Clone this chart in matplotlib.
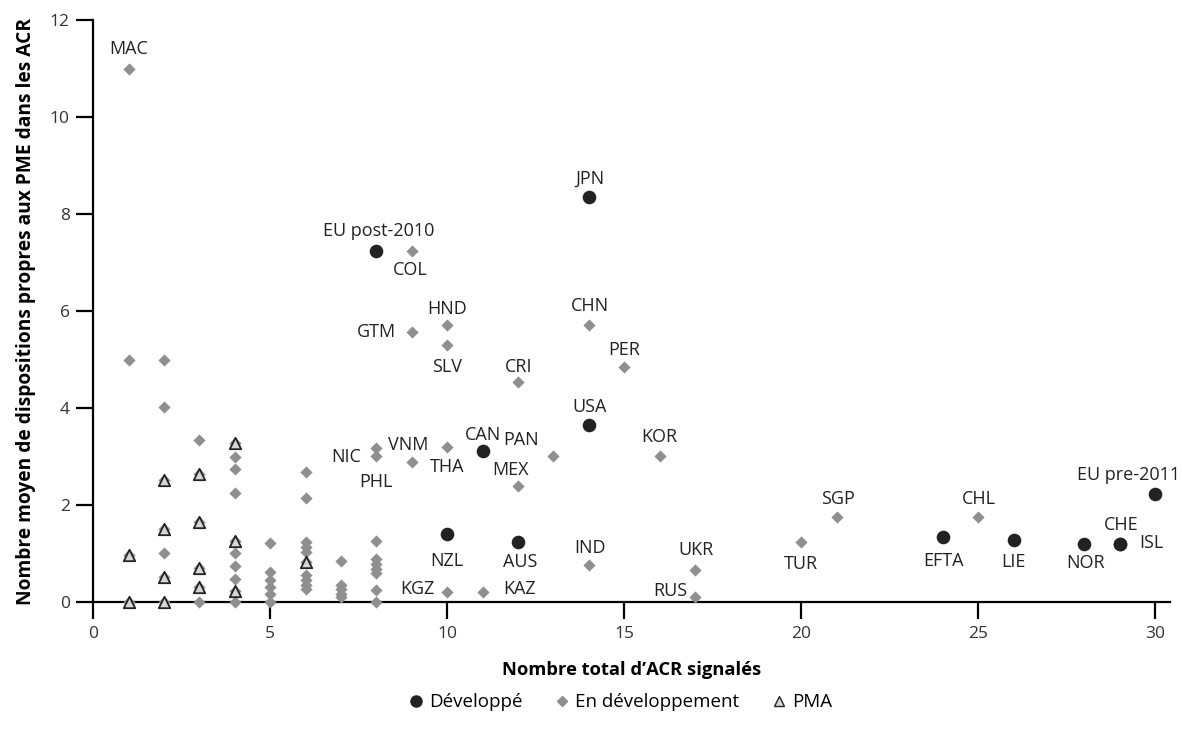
import matplotlib.pyplot as plt
from matplotlib.lines import Line2D

plt.rcParams['font.family'] = ['Open Sans', 'DejaVu Sans']

# Développé
dev_names = ["EU post-2010", "JPN", "CAN", "USA", "NZL", "AUS", "EFTA", "LIE",
             "NOR", "CHE", "ISL", "EU pre-2011"]
dev_x = [8, 14, 11, 14, 10, 12, 24, 26, 28, 29, 29, 30]
dev_y = [7.25, 8.35, 3.13, 3.65, 1.40, 1.25, 1.34, 1.28, 1.20, 1.20, 1.20, 2.24]

# En développement (labelled)
lab_names = ["MAC", "COL", "HND", "GTM", "SLV", "CRI", "CHN", "PER", "KOR", "PAN",
             "MEX", "THA", "VNM", "NIC", "PHL", "IND", "UKR", "RUS", "KGZ", "KAZ",
             "TUR", "SGP", "CHL"]
lab_x = [1, 9, 10, 9, 10, 12, 14, 15, 16, 13, 12, 10, 9, 8, 8, 14, 17, 17, 10, 11,
         20, 21, 25]
lab_y = [11.0, 7.24, 5.72, 5.58, 5.31, 4.55, 5.72, 4.86, 3.02, 3.02, 2.39, 3.21,
         2.90, 3.19, 3.02, 0.77, 0.67, 0.12, 0.22, 0.22, 1.24, 1.76, 1.76]

# En développement (unlabelled)
other_x = [1, 2, 2, 2, 3, 3,
           4, 4, 4, 4, 4, 4, 4,
           5, 5, 5, 5, 5, 5,
           6, 6, 6, 6, 6, 6, 6, 6, 6,
           7, 7, 7, 7, 7,
           8, 8, 8, 8, 8, 8, 8]
other_y = [5.0, 5.0, 4.02, 1.01, 3.35, 0.0,
           3.0, 2.74, 2.26, 1.01, 0.75, 0.49, 0.0,
           1.22, 0.63, 0.46, 0.32, 0.17, 0.0,
           2.68, 2.16, 1.25, 1.15, 1.04, 0.56, 0.46, 0.36, 0.27,
           0.86, 0.36, 0.27, 0.18, 0.10,
           1.27, 0.89, 0.78, 0.69, 0.60, 0.25, 0.0]

# PMA
pma_x = [1, 1, 2, 2, 2, 2, 3, 3, 3, 3, 4, 4, 4, 6]
pma_y = [0.98, 0.0, 2.52, 1.51, 0.52, 0.0, 2.65, 1.66, 0.70, 0.32, 3.28, 1.27, 0.24, 0.84]

# label offsets in pixels (dx, dy), screen up = positive
offsets = {
    "EU post-2010": (2, 20), "JPN": (1, 19), "CAN": (0, 16), "USA": (1, 18),
    "NZL": (0, -27), "AUS": (2, -20), "EFTA": (1, -24), "LIE": (0, -22),
    "NOR": (1, -19), "CHE": (2, 19), "ISL": (32, 1), "EU pre-2011": (-27, 19),
    "MAC": (0, 20), "COL": (-2, -19), "HND": (0, 16), "GTM": (-35, 0),
    "SLV": (0, -22), "CRI": (1, 15), "CHN": (1, 19), "PER": (0, 17),
    "KOR": (0, 19), "PAN": (-32, 16), "MEX": (-7, 16), "THA": (0, -20),
    "VNM": (-4, 17), "NIC": (-30, -9), "PHL": (0, -26), "IND": (1, 17),
    "UKR": (1, 20), "RUS": (-25, 6), "KGZ": (-30, 3), "KAZ": (37, 3),
    "TUR": (0, -22), "SGP": (1, 18), "CHL": (1, 18),
}

grey = '#8f8f8f'
dark = '#222222'

fig = plt.figure(figsize=(11.82, 7.34), dpi=100)
ax = fig.add_axes([0.0789, 0.1794, 0.9109, 0.7929])

ax.scatter(other_x + lab_x + pma_x, other_y + lab_y + pma_y, marker='D', s=6.2**2,
           color=grey, linewidths=0, zorder=3, clip_on=False)
ax.scatter(pma_x, pma_y, marker='^', s=8.2**2, facecolor='#d6d6d6', edgecolor=dark,
           linewidths=1.3, zorder=4, clip_on=False)
ax.scatter(dev_x, dev_y, marker='o', s=9.8**2, color=dark, linewidths=0,
           zorder=5, clip_on=False)

px2pt = 72 / 100
for names, xs, ys in [(dev_names, dev_x, dev_y), (lab_names, lab_x, lab_y)]:
    for n, x, y in zip(names, xs, ys):
        dx, dy = offsets[n]
        ax.annotate(n, (x, y), xytext=(dx * px2pt, dy * px2pt), textcoords='offset points',
                    ha='center', va='center', fontsize=13, color='#222222')

ax.set_xlim(0, 30.42)
ax.set_ylim(0, 12)
ax.set_xticks(range(0, 31, 5))
ax.set_yticks(range(0, 13, 2))
for s in ['top', 'right']:
    ax.spines[s].set_visible(False)
for s in ['left', 'bottom']:
    ax.spines[s].set_linewidth(1.6)
    ax.spines[s].set_color('black')
ax.tick_params(length=12, width=1.6, labelsize=12.5, labelcolor='#333333', pad=5)

ax.set_xlabel("Nombre total d\u2019ACR signalés", fontsize=13.2, fontweight='bold',
              labelpad=14)
ax.set_ylabel("Nombre moyen de dispositions propres aux PME dans les ACR", fontsize=13.8,
              fontweight='bold', labelpad=10)

handles = [
    Line2D([], [], marker='o', color=dark, linestyle='none', markersize=8),
    Line2D([], [], marker='D', color=grey, linestyle='none', markersize=5),
    Line2D([], [], marker='^', markerfacecolor='#d6d6d6', markeredgecolor=dark,
           linestyle='none', markersize=6.5, markeredgewidth=1),
]
fig.legend(handles, ["Développé", "En développement", "PMA"], loc='lower center',
           bbox_to_anchor=(0.524, 0.008), ncol=3, frameon=False, fontsize=13.5,
           handletextpad=0.2, columnspacing=1.6, handlelength=1.0)

fig.savefig('out.png', dpi=100)
